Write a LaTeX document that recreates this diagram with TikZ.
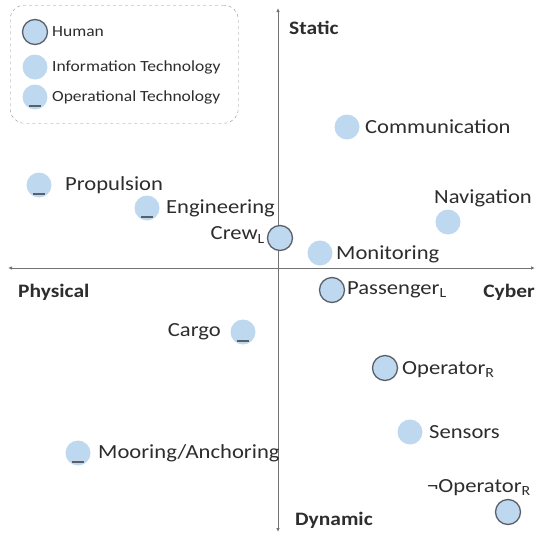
\documentclass[tikz,border=0pt]{standalone}
\usepackage{fontspec}
\setmainfont[FakeStretch=1.13]{Carlito}
\usetikzlibrary{arrows.meta}
\definecolor{bub}{RGB}{190,216,240}
\definecolor{hum}{RGB}{90,96,106}
\definecolor{txt}{RGB}{45,45,45}
\begin{document}
\begin{tikzpicture}[x=1pt,y=-1pt,
  it/.style={circle,fill=bub,minimum size=25pt,inner sep=0pt},
  hm/.style={it,draw=hum,line width=1.3pt},
  ot/.style={it},
  otbar/.style={draw=hum,line width=1.6pt},
  lab/.style={font=\fontsize{20}{24}\selectfont,text=txt,inner sep=0pt},
  ax/.style={font=\bfseries\fontsize{19}{22}\selectfont,text=txt,inner sep=0pt},
  leg/.style={font=\fontsize{15.5}{18}\selectfont,text=txt,inner sep=0pt,anchor=west},
  axisline/.style={draw=black!55,line width=0.8pt,{Latex[length=4pt,width=3.5pt]}-{Latex[length=4pt,width=3.5pt]}}]
\useasboundingbox (0,0) rectangle (536,536);
% axes
\coordinate (L) at (8,268);
\coordinate (R) at (535,268);
\coordinate (T) at (278,8);
\coordinate (B) at (278,532);
\draw[axisline] (L) -- (R);
\draw[axisline] (T) -- (B);
\node[ax,anchor=west] (static) at (289,28) {Static};
\node[ax,anchor=west] (physical) at (18,292) {Physical};
\node[ax,anchor=east] (cyber) at (535,292) {Cyber};
\node[ax,anchor=west] (dynamic) at (295,520) {Dynamic};
% legend
\node[draw=black!45,dashed,rounded corners=14pt,minimum width=228pt,minimum height=118pt,anchor=north west] (legend) at (10,5) {};
\node[hm] (lh) at (35,32) {};
\node[leg] (lht) at (52,32) {Human};
\node[it] (li) at (35,67) {};
\node[leg] (lit) at (52,67) {Information Technology};
\node[ot] (lo) at (35,97) {};
\draw[otbar] ([xshift=-6pt,yshift=3.5pt]lo.south) -- ([xshift=6pt,yshift=3.5pt]lo.south);
\node[leg] (lot) at (52,97) {Operational Technology};
% items
\node[it] (comm) at (347,127) {};
\node[lab,anchor=west] (commt) at (365,127) {Communication};
\node[ot] (prop) at (39,185) {};
\draw[otbar] ([xshift=-6pt,yshift=3.5pt]prop.south) -- ([xshift=6pt,yshift=3.5pt]prop.south);
\node[lab,anchor=west] (propt) at (65,185) {Propulsion};
\node[ot] (eng) at (147,208) {};
\draw[otbar] ([xshift=-6pt,yshift=3.5pt]eng.south) -- ([xshift=6pt,yshift=3.5pt]eng.south);
\node[lab,anchor=west] (engt) at (166,208) {Engineering};
\node[hm] (crew) at (280,238) {};
\node[lab,anchor=east] (crewt) at (265,235) {Crew\textsubscript{L}};
\node[it] (nav) at (448,222) {};
\node[lab,anchor=south] (navt) at (483,207) {Navigation};
\node[it] (mon) at (320,253) {};
\node[lab,anchor=west] (mont) at (336,254) {Monitoring};
\node[hm] (pass) at (332,290) {};
\node[lab,anchor=west] (passt) at (347,290) {Passenger\textsubscript{L}};
\node[ot] (cargo) at (243,332) {};
\draw[otbar] ([xshift=-6pt,yshift=3.5pt]cargo.south) -- ([xshift=6pt,yshift=3.5pt]cargo.south);
\node[lab,anchor=east] (cargot) at (221,332) {Cargo};
\node[hm] (oper) at (385,368) {};
\node[lab,anchor=west] (opert) at (402,370) {Operator\textsubscript{R}};
\node[it] (sens) at (410,432) {};
\node[lab,anchor=west] (senst) at (429,432) {Sensors};
\node[hm] (noper) at (508,512) {};
\node[lab,anchor=east] (nopert) at (531,488) {¬Operator\textsubscript{R}};
\node[ot] (moor) at (78,453) {};
\draw[otbar] ([xshift=-6pt,yshift=3.5pt]moor.south) -- ([xshift=6pt,yshift=3.5pt]moor.south);
\node[lab,anchor=west] (moort) at (98,453) {Mooring/Anchoring};
\end{tikzpicture}
\end{document}
